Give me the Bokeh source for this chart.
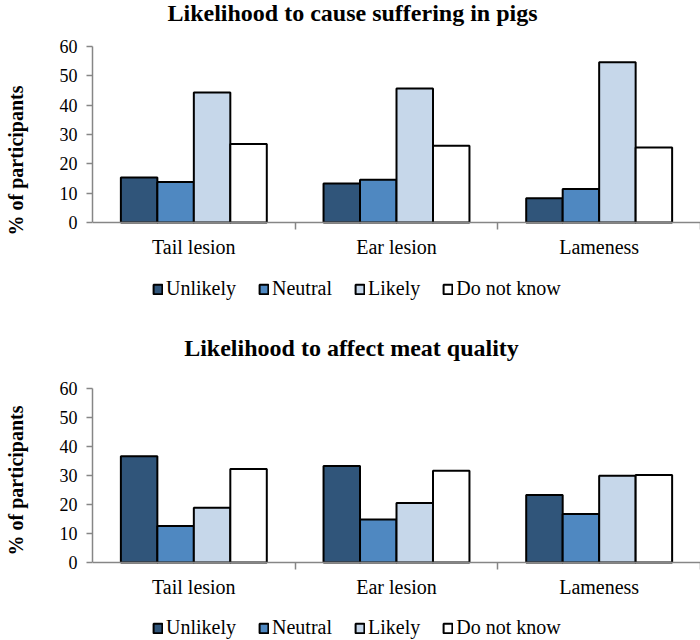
from bokeh.plotting import figure
from bokeh.layouts import column
from bokeh.models import (ColumnDataSource, Range1d, FixedTicker, Legend, LegendItem, Label)
from bokeh.transform import dodge
from bokeh.embed import file_html
from bokeh.resources import INLINE

categories = ["Tail lesion", "Ear lesion", "Lameness"]
responses = ["Unlikely", "Neutral", "Likely", "Do not know"]
colors = ["#30557a", "#4f88c1", "#c6d7ea", "#ffffff"]

suffering_unlikely = [15.3, 13.3, 8.3]
suffering_neutral = [13.8, 14.6, 11.4]
suffering_likely = [44.3, 45.7, 54.6]
suffering_dnk = [26.8, 26.2, 25.6]

meat_unlikely = [36.6, 33.3, 23.3]
meat_neutral = [12.6, 14.8, 16.7]
meat_likely = [18.9, 20.5, 29.9]
meat_dnk = [32.2, 31.6, 30.2]

y_ticks = [0, 10, 20, 30, 40, 50, 60]
Y_MAX = 60

FONT = "Liberation Serif"
GRAY = "#868686"
FRAME_LEFT = 92


def make_chart(title, series, height, top_px, plot_px, title_y, title_x, legend_below):
    """top_px: pixels above the 60 line; plot_px: pixels for 0..60;
    title_y: title centre from figure top; legend_below: legend centre below 0 line."""
    n = len(categories)
    centers = [i + 0.5 for i in range(n)]
    below_px = height - top_px - plot_px
    per_px = Y_MAX / plot_px
    src = ColumnDataSource(dict(xc=centers, cat=categories,
                                s0=series[0], s1=series[1], s2=series[2], s3=series[3]))
    p = figure(width=700, height=height, output_backend="svg", toolbar_location=None,
               x_range=Range1d(0, n),
               y_range=Range1d(-below_px * per_px, Y_MAX + top_px * per_px),
               min_border_left=FRAME_LEFT, min_border_right=0,
               min_border_top=0, min_border_bottom=0)
    p.outline_line_color = None
    p.grid.grid_line_color = None
    p.background_fill_color = "white"
    p.border_fill_color = "white"

    # y axis (only spans 0..60)
    ya = p.yaxis[0]
    ya.bounds = (0, Y_MAX)
    ya.ticker = FixedTicker(ticks=y_ticks)
    ya.axis_line_color = GRAY
    ya.axis_line_width = 1.5
    ya.major_tick_line_color = GRAY
    ya.major_tick_line_width = 1.5
    ya.major_tick_out = 6
    ya.major_tick_in = 0
    ya.minor_tick_line_color = None
    ya.major_label_text_font = FONT
    ya.major_label_text_font_size = "18px"
    ya.major_label_text_color = "black"
    ya.major_label_standoff = 9
    ya.axis_label = "% of participants"
    ya.axis_label_text_font = FONT
    ya.axis_label_text_font_size = "20px"
    ya.axis_label_text_font_style = "bold"
    ya.axis_label_text_color = "black"
    ya.axis_label_standoff = 30

    # x axis drawn at y = 0: labels at category centres, separators at boundaries
    xa = p.xaxis[0]
    xa.fixed_location = 0
    xa.ticker = FixedTicker(ticks=centers, minor_ticks=list(range(1, n + 1)))
    xa.major_label_overrides = {c: name for c, name in zip(centers, categories)}
    xa.axis_line_color = GRAY
    xa.axis_line_width = 1.5
    xa.major_tick_line_color = None
    xa.major_tick_out = 0
    xa.major_tick_in = 0
    xa.minor_tick_line_color = GRAY
    xa.minor_tick_line_width = 1.5
    xa.minor_tick_out = 7
    xa.minor_tick_in = 0
    xa.major_label_text_font = FONT
    xa.major_label_text_font_size = "20px"
    xa.major_label_text_color = "black"
    xa.major_label_standoff = 6

    offsets = [-0.27, -0.09, 0.09, 0.27]
    items = []
    for i, (name, col) in enumerate(zip(responses, colors)):
        r = p.vbar(x=dodge("xc", offsets[i]), top="s%d" % i,
                   width=0.18, source=src, fill_color=col,
                   line_color="black", line_width=2)
        items.append(LegendItem(label=name, renderers=[r]))

    pad = 2
    item_h = 22
    leg_bottom = below_px - (legend_below + item_h / 2 + pad)
    leg = Legend(items=items, orientation="horizontal", location=(60, leg_bottom),
                 border_line_color=None, background_fill_alpha=0,
                 label_text_font=FONT, label_text_font_size="20px",
                 label_text_color="black", glyph_width=11, glyph_height=12,
                 label_standoff=3, spacing=22, padding=pad, margin=0)
    p.add_layout(leg, "center")

    t = Label(text=title, x=title_x, y=height - title_y, x_units="screen", y_units="screen",
              text_align="center", text_baseline="middle",
              text_font=FONT, text_font_size="24px", text_font_style="bold",
              text_color="black")
    p.add_layout(t)
    return p


p1 = make_chart("Likelihood to cause suffering in pigs",
                [suffering_unlikely, suffering_neutral, suffering_likely, suffering_dnk],
                height=320, top_px=46, plot_px=176, title_y=12, title_x=260,
                legend_below=65)
p2 = make_chart("Likelihood to affect meat quality",
                [meat_unlikely, meat_neutral, meat_likely, meat_dnk],
                height=320, top_px=68, plot_px=174, title_y=27, title_x=259,
                legend_below=64)

layout = column(p1, p2, spacing=0)
open("out.html", "w").write(file_html(layout, INLINE))
